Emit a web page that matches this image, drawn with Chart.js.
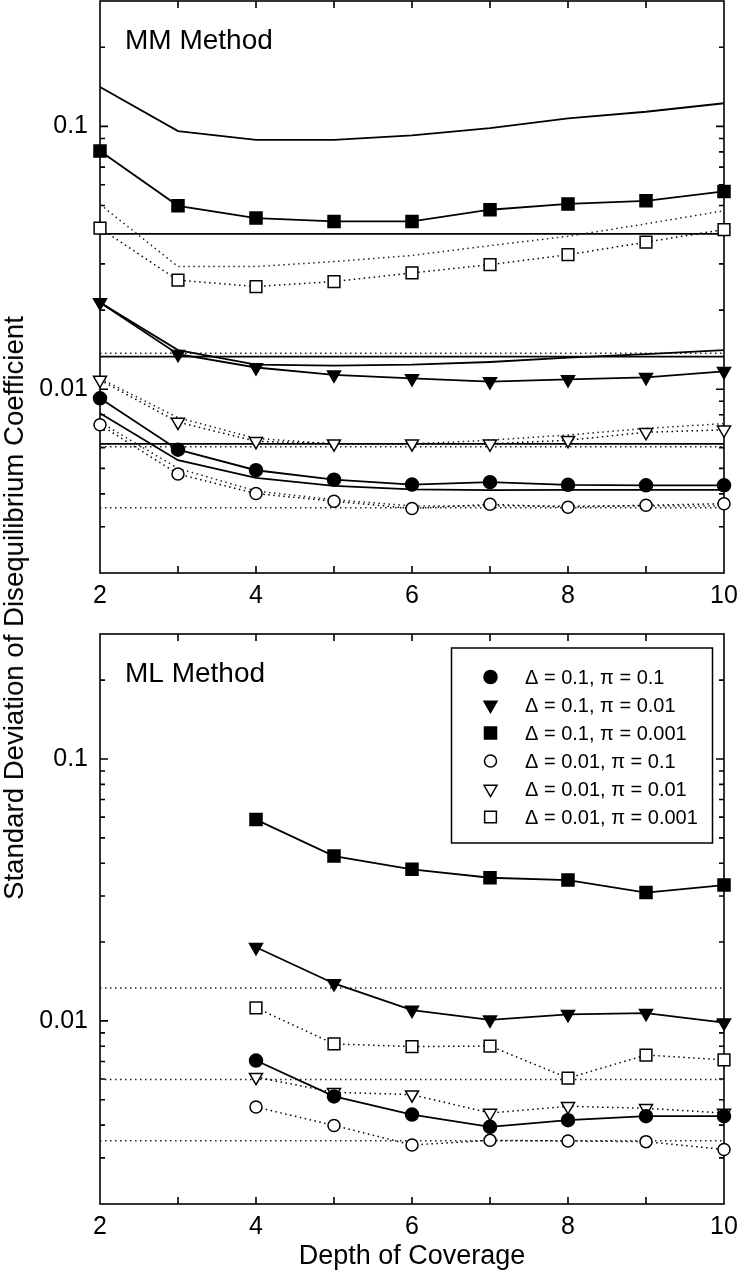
<!DOCTYPE html>
<html><head><meta charset="utf-8">
<script src="https://cdn.jsdelivr.net/npm/chart.js@4.4.1/dist/chart.umd.min.js"></script>
<style>
html,body{margin:0;padding:0;background:#fff;}
#wrap{position:relative;width:738px;height:1280px;overflow:hidden;background:#fff;}
#c1{position:absolute;left:0;top:0;}
#c2{position:absolute;left:0;top:620px;}
#ylab{position:absolute;left:14px;top:608px;transform:translate(-50%,-50%) rotate(-90deg);white-space:nowrap;font:27.6px 'Liberation Sans',Arial,sans-serif;color:#000;}
</style></head><body>
<div id="wrap">
<canvas id="c1" width="738" height="620"></canvas>
<canvas id="c2" width="738" height="660"></canvas>
<div id="ylab">Standard Deviation of Disequilibrium Coefficient</div>
</div>
<script>
// ---------- data ----------
const depth = [2, 3, 4, 5, 6, 7, 8, 9, 10];
const mlDepth = [4, 5, 6, 7, 8, 9, 10];
const seriesLabels = ['Δ = 0.1, π = 0.1', 'Δ = 0.1, π = 0.01', 'Δ = 0.1, π = 0.001',
                      'Δ = 0.01, π = 0.1', 'Δ = 0.01, π = 0.01', 'Δ = 0.01, π = 0.001'];
const panelTitles = ['MM Method', 'ML Method'];
const xAxisTitle = 'Depth of Coverage';
const xMajorTicks = [2, 4, 6, 8, 10];
const xTickLabels = ['2', '4', '6', '8', '10'];
const yTickValues = [0.01, 0.1];
const yTickLabels = ['0.01', '0.1'];
const yMin = 0.002, yMax = 0.3;

// MM method (simulated, with markers)
const mmD01P01    = [0.00924, 0.00589, 0.00492, 0.00453, 0.00434, 0.00443, 0.00433, 0.00431, 0.00431];
const mmD01P001   = [0.0214, 0.0136, 0.0121, 0.01135, 0.0110, 0.0107, 0.0109, 0.0111, 0.0117];
const mmD01P0001  = [0.0806, 0.0499, 0.0448, 0.0435, 0.0435, 0.0482, 0.0507, 0.0521, 0.0566];
const mmD001P01   = [0.00733, 0.00476, 0.00401, 0.00375, 0.00352, 0.00365, 0.00356, 0.00362, 0.00367];
const mmD001P001  = [0.01084, 0.0075, 0.00634, 0.00621, 0.00621, 0.0062, 0.0064, 0.00686, 0.00701];
const mmD001P0001 = [0.0410, 0.0260, 0.0246, 0.0257, 0.0277, 0.0298, 0.0325, 0.0363, 0.0405];
// MM method (curves without markers)
const mmCurveD01P01    = [0.0081, 0.00537, 0.0046, 0.00429, 0.00416, 0.00413, 0.00414, 0.00414, 0.00414];
const mmCurveD01P001   = [0.0214, 0.0141, 0.0124, 0.0123, 0.0124, 0.0127, 0.0132, 0.0136, 0.0141];
const mmCurveD01P0001  = [0.1413, 0.0960, 0.0888, 0.0888, 0.0924, 0.0986, 0.1072, 0.1137, 0.1225];
const mmCurveD001P01   = [0.0075, 0.0050, 0.0041, 0.0038, 0.0036, 0.0036, 0.0036, 0.0036, 0.0036];
const mmCurveD001P001  = [0.0110, 0.0078, 0.0065, 0.0062, 0.0062, 0.0064, 0.0067, 0.0071, 0.0074];
const mmCurveD001P0001 = [0.0505, 0.0293, 0.0293, 0.0306, 0.0323, 0.0352, 0.0382, 0.0426, 0.0478];
// horizontal reference levels
const mmLevelsSolid  = [0.0390, 0.0133, 0.0062];
const mmLevelsDotted = [0.0137, 0.00605, 0.00354];
const mlLevelsDotted = [0.01335, 0.00597, 0.00349];

// ML method
const mlD01P01    = [0.00706, 0.00515, 0.00439, 0.00394, 0.00418, 0.00433, 0.00433];
const mlD01P001   = [0.0191, 0.0139, 0.0110, 0.0101, 0.0106, 0.0107, 0.00985];
const mlD01P0001  = [0.0587, 0.0426, 0.0379, 0.0352, 0.0345, 0.0309, 0.0330];
const mlD001P01   = [0.00469, 0.00399, 0.00336, 0.00350, 0.00348, 0.00346, 0.00323];
const mlD001P001  = [0.00610, 0.00534, 0.00523, 0.00445, 0.00472, 0.00464, 0.00445];
const mlD001P0001 = [0.01122, 0.00817, 0.00798, 0.00802, 0.00605, 0.00741, 0.00710];

// ---------- styles ----------
const FONT = "'Liberation Sans', Arial, sans-serif";
Chart.defaults.color = '#000';
Chart.defaults.font.family = FONT;

const markerStyles = [
  {pointStyle: 'circle', radius: 6.5, rotation: 0, fill: '#000', dotted: false},
  {pointStyle: 'triangle', radius: 7.5, rotation: 180, fill: '#000', dotted: false},
  {pointStyle: 'rect', radius: 8.5, rotation: 0, fill: '#000', dotted: false},
  {pointStyle: 'circle', radius: 6, rotation: 0, fill: '#fff', dotted: true},
  {pointStyle: 'triangle', radius: 7.5, rotation: 180, fill: '#fff', dotted: true},
  {pointStyle: 'rect', radius: 8.3, rotation: 0, fill: '#fff', dotted: true}
];
const DOT = [1.5, 3.5];

function pts(xs, ys) { return xs.map((x, i) => ({x: x, y: ys[i]})); }

function markerSet(label, xs, ys, st) {
  return {
    label: label, data: pts(xs, ys), clip: false,
    borderColor: '#000', borderWidth: st.dotted ? 1.5 : 1.8,
    borderDash: st.dotted ? DOT : [],
    pointStyle: st.pointStyle, pointRotation: st.rotation,
    pointRadius: st.radius, pointHoverRadius: st.radius,
    pointBackgroundColor: st.fill, pointBorderColor: '#000', pointBorderWidth: 1.5,
    tension: 0, fill: false
  };
}
function curveSet(xs, ys, dotted) {
  return {
    label: '', data: pts(xs, ys), clip: false,
    borderColor: dotted ? '#222' : '#000', borderWidth: dotted ? 1.5 : 1.8,
    borderDash: dotted ? DOT : [], pointRadius: 0, pointHoverRadius: 0,
    tension: 0, fill: false
  };
}
function levelSet(v, dotted) {
  return curveSet([depth[0], depth[depth.length - 1]], [v, v], dotted);
}

// frame + inward ticks
const framePlugin = {
  id: 'frame',
  beforeDatasetsDraw(chart) {
    const {ctx, chartArea: a} = chart;
    const x = chart.scales.x, y = chart.scales.y;
    ctx.save();
    ctx.strokeStyle = '#000';
    ctx.lineWidth = 1.6;
    ctx.strokeRect(a.left, a.top, a.right - a.left, a.bottom - a.top);
    ctx.beginPath();
    for (let v = depth[0] + 1; v < depth[depth.length - 1]; v++) {
      const px = x.getPixelForValue(v);
      ctx.moveTo(px, a.bottom); ctx.lineTo(px, a.bottom - 7);
      ctx.moveTo(px, a.top); ctx.lineTo(px, a.top + 7);
    }
    for (const d of [0.001, 0.01, 0.1]) {
      for (let m = 1; m <= 9; m++) {
        const v = m * d;
        if (v <= yMin * 1.0001 || v >= yMax * 0.9999) continue;
        const py = y.getPixelForValue(v);
        const L = m === 1 ? 8 : 5;
        ctx.moveTo(a.left, py); ctx.lineTo(a.left + L, py);
        ctx.moveTo(a.right, py); ctx.lineTo(a.right - L, py);
      }
    }
    ctx.stroke();
    ctx.restore();
  }
};

const titlePlugin = {
  id: 'panelTitle',
  afterDraw(chart, args, opts) {
    const {ctx, chartArea: a} = chart;
    ctx.save();
    ctx.fillStyle = '#000';
    ctx.font = '28px ' + FONT;
    ctx.textBaseline = 'alphabetic';
    ctx.fillText(opts.text, a.left + 25, a.top + 48);
    ctx.restore();
  }
};

function drawMarker(ctx, st, x, y) {
  ctx.fillStyle = st.fill;
  ctx.strokeStyle = '#000';
  ctx.lineWidth = 1.5;
  if (Chart.helpers && Chart.helpers.drawPoint) {
    Chart.helpers.drawPoint(ctx, {pointStyle: st.pointStyle, radius: st.radius, rotation: st.rotation, borderWidth: 1.5}, x, y);
  }
}

const legendPlugin = {
  id: 'boxLegend',
  afterDatasetsDraw(chart, args, opts) {
    if (!opts.show) return;
    const {ctx, chartArea: a} = chart;
    const w = 261, h = 195;
    const left = a.right - 11.5 - w, top = a.top + 14;
    ctx.save();
    ctx.fillStyle = '#fff';
    ctx.fillRect(left, top, w, h);
    ctx.strokeStyle = '#000';
    ctx.lineWidth = 1.5;
    ctx.strokeRect(left, top, w, h);
    ctx.font = '20px ' + FONT;
    ctx.textBaseline = 'middle';
    seriesLabels.forEach((lab, i) => {
      const cy = top + 29 + i * 28;
      drawMarker(ctx, markerStyles[i], left + 39, cy);
      ctx.fillStyle = '#000';
      ctx.fillText(lab, left + 73.5, cy + 1);
    });
    ctx.restore();
  }
};

function scalesFor(xHeight, showTitle) {
  return {
    x: {
      type: 'linear', min: depth[0], max: depth[depth.length - 1],
      grid: {display: false, drawTicks: false}, border: {display: false},
      ticks: {
        stepSize: 1, padding: 8, font: {size: 25, family: FONT}, color: '#000', maxRotation: 0,
        callback: (v) => { const i = xMajorTicks.indexOf(v); return i >= 0 ? xTickLabels[i] : ''; }
      },
      title: {display: showTitle, text: xAxisTitle, font: {size: 27, family: FONT}, color: '#000', padding: {top: 0, bottom: 7}},
      afterFit: (s) => { s.height = xHeight; s.paddingLeft = 0; s.paddingRight = 0; s.paddingTop = 0; s.paddingBottom = 0; }
    },
    y: {
      type: 'logarithmic', min: yMin, max: yMax,
      grid: {display: false, drawTicks: false}, border: {display: false},
      afterBuildTicks: (s) => { s.ticks = yTickValues.map(v => ({value: v})); },
      ticks: {
        padding: 12, font: {size: 25, family: FONT}, color: '#000',
        callback: (v) => { const i = yTickValues.indexOf(v); return i >= 0 ? yTickLabels[i] : ''; }
      },
      afterFit: (s) => { s.width = 100; s.paddingTop = 0; s.paddingBottom = 0; s.paddingLeft = 0; s.paddingRight = 0; }
    }
  };
}

// ---------- top: MM ----------
const mmMarkerData = [mmD01P01, mmD01P001, mmD01P0001, mmD001P01, mmD001P001, mmD001P0001];
const mmCurveData = [mmCurveD01P01, mmCurveD01P001, mmCurveD01P0001, mmCurveD001P01, mmCurveD001P001, mmCurveD001P0001];
const topSets = [];
mmMarkerData.forEach((d, i) => topSets.push(markerSet(seriesLabels[i], depth, d, markerStyles[i])));
mmCurveData.forEach((d, i) => topSets.push(curveSet(depth, d, i >= 3)));
mmLevelsSolid.forEach(v => topSets.push(levelSet(v, false)));
mmLevelsDotted.forEach(v => topSets.push(levelSet(v, true)));

new Chart(document.getElementById('c1'), {
  type: 'line',
  data: {datasets: topSets},
  options: {
    responsive: false, animation: false, devicePixelRatio: 1, events: [],
    layout: {autoPadding: false, padding: {top: 1, right: 14, left: 0, bottom: 0}},
    scales: scalesFor(47, false),
    plugins: {legend: {display: false}, tooltip: {enabled: false},
              panelTitle: {text: panelTitles[0]}, boxLegend: {show: false}}
  },
  plugins: [framePlugin, titlePlugin, legendPlugin]
});

// ---------- bottom: ML ----------
const mlMarkerData = [mlD01P01, mlD01P001, mlD01P0001, mlD001P01, mlD001P001, mlD001P0001];
const botSets = [];
mlMarkerData.forEach((d, i) => botSets.push(markerSet(seriesLabels[i], mlDepth, d, markerStyles[i])));
mlLevelsDotted.forEach(v => botSets.push(levelSet(v, true)));

new Chart(document.getElementById('c2'), {
  type: 'line',
  data: {datasets: botSets},
  options: {
    responsive: false, animation: false, devicePixelRatio: 1, events: [],
    layout: {autoPadding: false, padding: {top: 14, right: 14, left: 0, bottom: 0}},
    scales: scalesFor(76, true),
    plugins: {legend: {display: false}, tooltip: {enabled: false},
              panelTitle: {text: panelTitles[1]}, boxLegend: {show: true}}
  },
  plugins: [framePlugin, titlePlugin, legendPlugin]
});
</script>
</body></html>
